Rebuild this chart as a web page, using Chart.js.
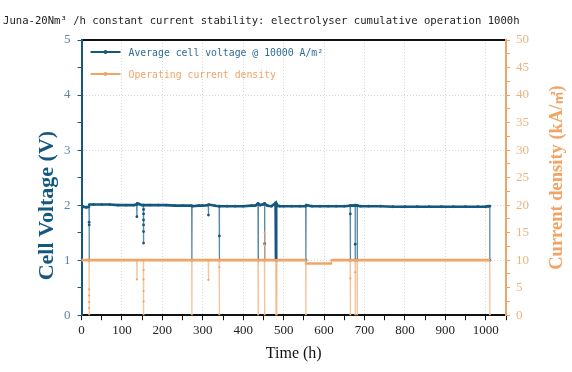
<!DOCTYPE html>
<html>
<head>
<meta charset="utf-8">
<script src="https://cdn.jsdelivr.net/npm/chart.js@4.4.1/dist/chart.umd.min.js"></script>
<style>
    html, body { margin: 0; padding: 0; background: #ffffff; }
    #chartBox { width: 572px; height: 372px; }
</style>
</head>
<body>
<div id="chartBox"><canvas id="stabilityChart"></canvas></div>
<script>
// Voltage series (hours, volts)
const voltageTime = [0, 4, 12, 18.5, 19, 19, 19, 19.5, 30, 50, 70, 90, 110, 130, 136.5, 137, 137.5, 142, 150,
    153, 153.5, 153.5, 153.5, 153.5, 153.5, 153.5, 154, 170, 190, 210, 230, 250, 272.5, 273, 273.5, 290, 300,
    313.5, 314, 314.5, 330, 340.5, 341, 341, 341.5, 360, 380, 400, 420, 430, 436.5, 437, 437.5, 442, 448,
    453, 453, 453, 453.5, 460, 470, 480, 481, 481.5, 482.5, 483, 483.5, 490, 500, 520, 540, 554.5, 555, 555.5,
    570, 590, 610, 630, 650, 664.5, 665, 665, 665.5, 672, 677, 677, 677, 677.5, 682, 682, 682.5, 690, 710,
    740, 770, 800, 830, 860, 890, 920, 950, 980, 1000, 1005, 1008, 1010, 1010];
const cellVoltage = [2.00, 1.97, 1.96, 1.97, 1.69, 1.64, 1.00, 2.01, 2.01, 2.01, 2.01, 2.00, 2.00, 2.00, 2.01, 1.79, 2.03, 2.02, 2.00,
    2.00, 1.92, 1.84, 1.73, 1.64, 1.52, 1.31, 2.00, 2.00, 2.00, 2.00, 1.99, 1.99, 1.99, 1.00, 1.98, 1.99, 1.99,
    2.00, 1.82, 2.01, 1.99, 1.98, 1.44, 1.00, 1.98, 1.98, 1.98, 1.98, 1.99, 1.99, 2.03, 1.00, 2.02, 2.00, 2.01,
    2.03, 1.30, 1.00, 2.02, 1.99, 1.98, 2.04, 1.00, 2.03, 2.02, 1.00, 2.00, 1.98, 1.98, 1.98, 1.98, 1.98, 1.00, 2.00,
    1.98, 1.98, 1.98, 1.98, 1.98, 1.99, 1.84, 1.00, 1.99, 1.99, 2.00, 1.29, 1.00, 1.99, 1.99, 1.00, 1.99, 1.98, 1.98,
    1.98, 1.97, 1.97, 1.97, 1.97, 1.97, 1.97, 1.97, 1.97, 1.97, 1.98, 1.98, 1.98, 1.00];

// Current density series (hours, kA/m2)
const currentTime = [0, 18.5, 19, 19, 19, 19, 19, 19.5, 136.5, 137, 137.5, 153, 153.5, 153.5, 153.5, 153.5, 153.5, 154,
    272.5, 273, 273.5, 313.5, 314, 314.5, 340.5, 341, 341, 341.5, 436.5, 437, 437.5, 452.5, 453, 453, 453, 453.5,
    480.5, 481, 481.5, 482.5, 483, 483.5, 554.5, 555, 555.5, 618, 618, 664.5, 665, 665, 665.5, 676.5, 677, 677,
    677.5, 681.5, 682, 682.5, 1009.5, 1010];
const currentDensity = [10, 10, 4.7, 3.6, 2.4, 1.3, 0, 10, 10, 6.5, 10, 10, 8.2, 6.5, 4.4, 2.5, 0, 10,
    10, 0, 10, 10, 6.4, 10, 10, 8.7, 0, 10, 10, 0, 10, 10, 12.7, 15, 0, 10,
    10, 0, 10, 10, 0, 10, 10, 0, 9.4, 9.4, 10, 10, 6.7, 0, 10, 10, 7.8, 0,
    10, 10, 0, 10, 10, 0];

const seriesLabels = ["Average cell voltage @ 10000 A/m\u00B2", "Operating current density"];
const titleText = "Juna-20Nm\u00B3 /h constant current stability: electrolyser cumulative operation 1000h";

const blue = "#15587f";
const orange = "#f1a465";

// Near vertical steps are drawn thinner and lighter
function isStep(ctx) {
    return Math.abs(ctx.p1.parsed.x - ctx.p0.parsed.x) < 1;
}

// Title, axis titles and the inside legend are drawn by hand
const extrasPlugin = {
    id: "extras",
    afterDraw(chart) {
        const ctx = chart.ctx;
        const area = chart.chartArea;
        ctx.save();

        // title, fitted to the width the reference uses
        ctx.font = "10.5px 'DejaVu Sans Mono'";
        let size = 10.5 * 517 / ctx.measureText(titleText).width;
        ctx.font = size.toFixed(2) + "px 'DejaVu Sans Mono'";
        ctx.fillStyle = "#222";
        ctx.textAlign = "left";
        ctx.textBaseline = "middle";
        ctx.fillText(titleText, 3, 21);

        ctx.textAlign = "center";
        ctx.save();
        ctx.font = "bold 22px 'Liberation Serif'";
        ctx.translate(area.left - 34, (area.top + area.bottom) / 2 + 28);
        ctx.rotate(-Math.PI / 2);
        ctx.fillStyle = blue;
        ctx.fillText("Cell Voltage (V)", 0, 0);
        ctx.restore();

        ctx.save();
        ctx.translate(area.right + 51, (area.top + area.bottom) / 2);
        ctx.rotate(-Math.PI / 2);
        ctx.fillStyle = orange;
        ctx.textAlign = "left";
        let mainPart = "Current density (kA/";
        ctx.font = "bold 18.5px 'Liberation Serif'";
        let w1 = ctx.measureText(mainPart).width;
        ctx.font = "bold 13px 'Noto Sans CJK SC'";
        let w2 = ctx.measureText("\u33A1").width;
        ctx.font = "bold 18.5px 'Liberation Serif'";
        let w3 = ctx.measureText(")").width;
        let x0 = -(w1 + w2 + w3) / 2;
        ctx.fillText(mainPart, x0, 0);
        ctx.font = "bold 13px 'Noto Sans CJK SC'";
        ctx.fillText("\u33A1", x0 + w1, 0);
        ctx.font = "bold 18.5px 'Liberation Serif'";
        ctx.fillText(")", x0 + w1 + w2, 0);
        ctx.restore();

        // legend
        let colors = [blue, orange];
        ctx.font = "9.8px 'DejaVu Sans Mono'";
        ctx.textAlign = "left";
        for (let i = 0; i < 2; i++) {
            let y = area.top + 12 + i * 22;
            let x = area.left + 9;
            ctx.strokeStyle = colors[i];
            ctx.fillStyle = colors[i];
            ctx.lineWidth = 2;
            ctx.beginPath();
            ctx.moveTo(x, y);
            ctx.lineTo(x + 30, y);
            ctx.stroke();
            ctx.beginPath();
            ctx.arc(x + 15, y, 2, 0, Math.PI * 2);
            ctx.fill();
            ctx.fillStyle = i == 0 ? "#2f6d94" : "#f2a46a";
            ctx.fillText(seriesLabels[i], x + 38, y + 1);
        }
        ctx.restore();
    }
};

const voltageData = voltageTime.map((t, i) => ({x: t, y: cellVoltage[i]}));
const currentData = currentTime.map((t, i) => ({x: t, y: currentDensity[i]}));

const tickFont = {family: "'Liberation Serif'", size: 13};
const gridGrey = "#d9d9d9";

new Chart(document.getElementById("stabilityChart"), {
    type: "line",
    data: {
        datasets: [
            {
                label: seriesLabels[0],
                data: voltageData,
                yAxisID: "y",
                order: 1,
                borderColor: blue,
                backgroundColor: blue,
                borderWidth: 2.6,
                pointRadius: 1.4,
                pointBorderWidth: 0,
                segment: {
                    borderWidth: ctx => isStep(ctx) ? 1.3 : 2.6,
                    borderColor: ctx => isStep(ctx) ? "rgba(21,88,127,0.7)" : blue
                }
            },
            {
                label: seriesLabels[1],
                data: currentData,
                yAxisID: "y2",
                order: 0,
                borderColor: orange,
                backgroundColor: orange,
                borderWidth: 2.6,
                pointRadius: 1.1,
                pointBorderWidth: 0,
                segment: {
                    borderWidth: ctx => isStep(ctx) ? 1.3 : 2.6,
                    borderColor: ctx => isStep(ctx) ? "rgba(241,164,101,0.65)" : orange
                }
            }
        ]
    },
    options: {
        responsive: true,
        maintainAspectRatio: false,
        animation: false,
        layout: {padding: {left: 57, right: 37, top: 40, bottom: 9}},
        plugins: {
            legend: {display: false},
            tooltip: {enabled: false},
            title: {display: false}
        },
        scales: {
            x: {
                type: "linear",
                min: 0,
                max: 1050,
                ticks: {
                    stepSize: 50,
                    autoSkip: false,
                    maxRotation: 0,
                    color: "#222",
                    font: tickFont,
                    padding: 3,
                    callback: v => v % 100 === 0 ? v : ""
                },
                grid: {
                    color: ctx => (ctx.tick && ctx.tick.value % 100 === 0 && ctx.tick.value > 0) ? gridGrey : "rgba(0,0,0,0)",
                    tickColor: "#111",
                    tickLength: 5
                },
                border: {color: "#111", width: 2, dash: [1, 2]},
                title: {
                    display: true,
                    text: "Time (h)",
                    color: "#111",
                    font: {family: "'Liberation Serif'", size: 16},
                    padding: {top: 2, bottom: 0}
                }
            },
            xTop: {
                type: "linear",
                position: "top",
                min: 0,
                max: 1050,
                ticks: {display: false},
                grid: {drawOnChartArea: false, drawTicks: false},
                border: {color: "#111", width: 2}
            },
            y: {
                type: "linear",
                position: "left",
                min: 0,
                max: 5,
                ticks: {
                    stepSize: 0.5,
                    autoSkip: false,
                    color: "#5b88aa",
                    font: tickFont,
                    padding: 7,
                    callback: v => Number.isInteger(v) ? v : ""
                },
                grid: {
                    color: ctx => (ctx.tick && Number.isInteger(ctx.tick.value) && ctx.tick.value > 0 && ctx.tick.value < 5) ? gridGrey : "rgba(0,0,0,0)",
                    tickColor: blue,
                    tickLength: 4
                },
                border: {color: blue, width: 2, dash: [1, 2]}
            },
            y2: {
                type: "linear",
                position: "right",
                min: 0,
                max: 50,
                ticks: {
                    stepSize: 2.5,
                    autoSkip: false,
                    color: "#f1b27c",
                    font: tickFont,
                    padding: 6,
                    callback: v => v % 5 === 0 ? v : ""
                },
                grid: {drawOnChartArea: false, tickColor: orange, tickLength: 4},
                border: {color: orange, width: 2}
            }
        }
    },
    plugins: [extrasPlugin]
});
</script>
</body>
</html>
